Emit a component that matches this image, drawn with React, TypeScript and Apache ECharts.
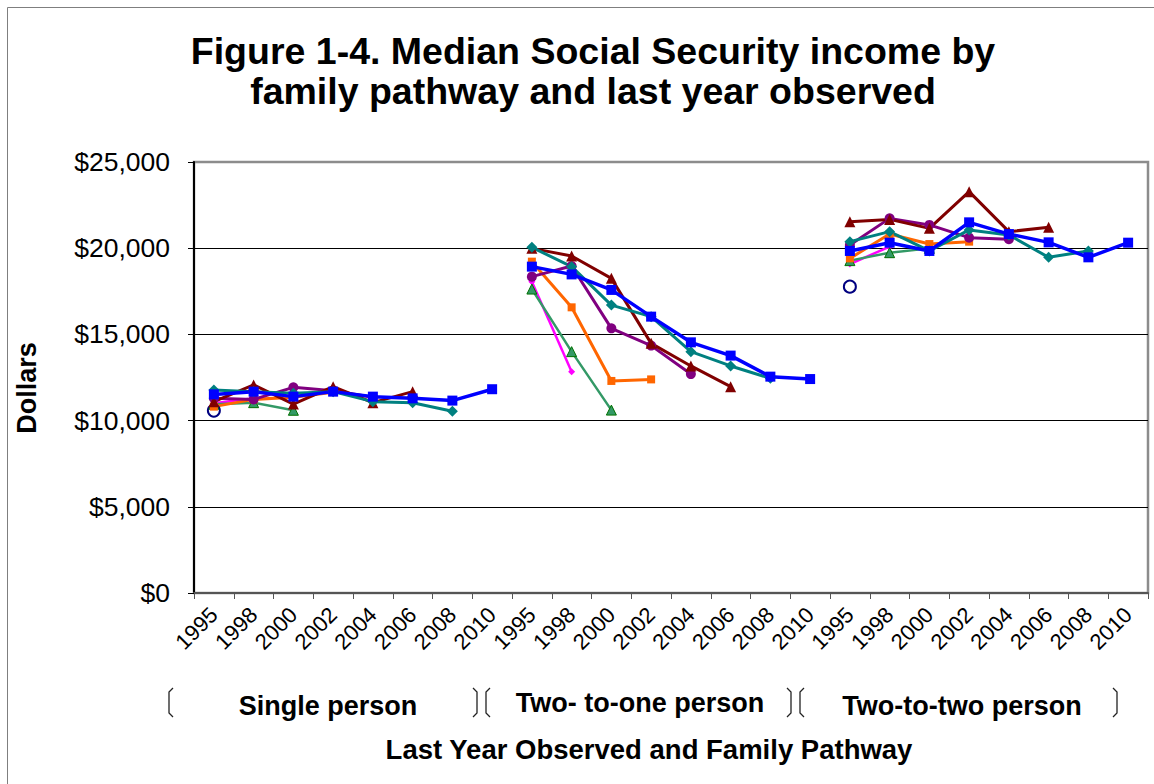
import React, { useEffect, useRef } from 'react';
import * as echarts from 'echarts';

const years = ['1995', '1998', '2000', '2002', '2004', '2006', '2008', '2010'];
const groups = ['Single person', 'Two- to-one person', 'Two-to-two person'];
const yTicks = [0, 5000, 10000, 15000, 20000, 25000];

// Series values per group (start at 1995, consecutive observation years)
const navySingle = [10580];
const navyTwoToOne: number[] = [];
const navyTwoToTwo = [17770];

const magentaSingle = [11000, 11290];
const magentaTwoToOne = [18060, 12840];
const magentaTwoToTwo = [19080, 20090];

const greenSingle = [10950, 11040, 10600];
const greenTwoToOne = [17630, 14000, 10610];
const greenTwoToTwo = [19280, 19740, 19990];

const orangeSingle = [10810, 11230, 11350, 11650];
const orangeTwoToOne = [19220, 16570, 12300, 12390];
const orangeTwoToTwo = [19410, 20820, 20240, 20380];

const purpleSingle = [11290, 11230, 11930, 11730, 11350];
const purpleTwoToOne = [18350, 18970, 15350, 14350, 12700];
const purpleTwoToTwo = [20190, 21730, 21350, 20610, 20520];

const darkRedSingle = [11100, 12070, 10960, 11970, 11040, 11680];
const darkRedTwoToOne = [19990, 19550, 18250, 14480, 13170, 11970];
const darkRedTwoToTwo = [21540, 21670, 21150, 23280, 20960, 21210];

const tealSingle = [11770, 11680, 11580, 11680, 11100, 11040, 10540];
const tealTwoToOne = [20050, 18930, 16700, 16030, 14000, 13170, 12450];
const tealTwoToTwo = [20380, 20960, 19840, 21060, 20770, 19470, 19840];

const blueSingle = [11520, 11680, 11390, 11680, 11390, 11290, 11160, 11820];
const blueTwoToOne = [18930, 18480, 17580, 16030, 14540, 13770, 12550, 12410];
const blueTwoToTwo = [19840, 20320, 19840, 21500, 20820, 20340, 19470, 20320];

const categories = groups.flatMap((_, gi) => years.map((y) => `${gi}-${y}`));

type Style = {
  name: string;
  groupsData: number[][];
  line: string;
  width: number;
  symbol: string;
  size: number;
  fill: string;
  border?: string;
  borderWidth?: number;
};

const styles: Style[] = [
  { name: 'Navy', groupsData: [navySingle, navyTwoToOne, navyTwoToTwo], line: '#000080', width: 2, symbol: 'emptyCircle', size: 12, fill: '#000080', borderWidth: 1.5 },
  { name: 'Magenta', groupsData: [magentaSingle, magentaTwoToOne, magentaTwoToTwo], line: '#FF00FF', width: 2.5, symbol: 'diamond', size: 7, fill: '#FF00FF' },
  { name: 'Green', groupsData: [greenSingle, greenTwoToOne, greenTwoToTwo], line: '#339966', width: 2.5, symbol: 'triangle', size: 10, fill: '#339966', border: '#007000', borderWidth: 1 },
  { name: 'Orange', groupsData: [orangeSingle, orangeTwoToOne, orangeTwoToTwo], line: '#FF6600', width: 3, symbol: 'rect', size: 8, fill: '#FF6600' },
  { name: 'Purple', groupsData: [purpleSingle, purpleTwoToOne, purpleTwoToTwo], line: '#800080', width: 3, symbol: 'circle', size: 10, fill: '#800080' },
  { name: 'DarkRed', groupsData: [darkRedSingle, darkRedTwoToOne, darkRedTwoToTwo], line: '#800000', width: 3, symbol: 'triangle', size: 11, fill: '#800000' },
  { name: 'Teal', groupsData: [tealSingle, tealTwoToOne, tealTwoToTwo], line: '#008080', width: 3, symbol: 'diamond', size: 11, fill: '#008080' },
  { name: 'Blue', groupsData: [blueSingle, blueTwoToOne, blueTwoToTwo], line: '#0000FF', width: 3.5, symbol: 'rect', size: 10, fill: '#0000FF' },
];

const FONT = 'Liberation Sans, Arial, sans-serif';

function buildSeries() {
  const out: any[] = [];
  styles.forEach((s) => {
    s.groupsData.forEach((vals, gi) => {
      if (!vals.length) return;
      const data: (number | null)[] = new Array(categories.length).fill(null);
      vals.forEach((v, i) => {
        data[gi * years.length + i] = v;
      });
      out.push({
        name: s.name,
        type: 'line',
        data,
        connectNulls: false,
        symbol: s.symbol,
        symbolSize: s.size,
        showAllSymbol: true,
        lineStyle: { color: s.line, width: s.width },
        itemStyle: {
          color: s.fill,
          borderColor: s.border || s.fill,
          borderWidth: s.borderWidth ?? 0,
        },
        emphasis: { disabled: true },
      });
    });
  });
  return out;
}

function bracket(x: number, dir: 1 | -1) {
  // dir 1 => "(" opening bracket, -1 => ")" closing bracket
  const top = 688;
  const bottom = 717;
  return {
    type: 'polyline',
    shape: {
      points: [
        [x + 4 * dir, top],
        [x, top + 4],
        [x, bottom - 4],
        [x + 4 * dir, bottom],
      ],
    },
    style: { stroke: '#222', lineWidth: 1.3, fill: 'none' },
    silent: true,
  };
}

function label(text: string, x: number, y: number, size: number, rotation = 0) {
  return {
    type: 'text',
    x,
    y,
    rotation,
    style: {
      text,
      fontSize: size,
      fontWeight: 'bold',
      fontFamily: FONT,
      fill: '#000',
      textAlign: 'center',
      textVerticalAlign: 'middle',
      align: 'center',
      verticalAlign: 'middle',
    },
    silent: true,
  };
}

export default function App() {
  const ref = useRef<HTMLDivElement>(null);
  useEffect(() => {
    if (!ref.current) return;
    const chart = echarts.init(ref.current, null, { renderer: 'svg' });
    const option: any = {
      animation: false,
      backgroundColor: '#ffffff',
      title: {
        text: 'Figure 1-4. Median Social Security income by\nfamily pathway and last year observed',
        left: 588,
        top: 26,
        textAlign: 'center',
        textStyle: {
          fontSize: 37.5,
          fontWeight: 'bold',
          fontFamily: FONT,
          color: '#000',
          lineHeight: 40,
        },
      },
      grid: {
        left: 194,
        top: 162,
        width: 954,
        height: 431,
        show: true,
        borderColor: '#8c8c8c',
        borderWidth: 2.5,
        backgroundColor: 'transparent',
      },
      xAxis: {
        type: 'category',
        data: categories,
        boundaryGap: true,
        axisLine: { lineStyle: { color: '#555', width: 2 } },
        axisTick: { show: true, length: 6, interval: 0, lineStyle: { color: '#555', width: 1 } },
        axisLabel: {
          interval: 0,
          rotate: 45,
          fontSize: 22,
          fontFamily: FONT,
          color: '#000',
          margin: 18,
          formatter: (v: string) => v.split('-')[1],
        },
        splitLine: { show: false },
      },
      yAxis: {
        type: 'value',
        min: yTicks[0],
        max: yTicks[yTicks.length - 1],
        interval: 5000,
        axisLine: { show: true, lineStyle: { color: '#000', width: 2 } },
        axisTick: { show: true, length: 6, lineStyle: { color: '#000', width: 1 } },
        axisLabel: {
          fontSize: 26.5,
          fontFamily: FONT,
          color: '#000',
          margin: 24,
          formatter: (v: number) => '$' + v.toLocaleString('en-US'),
        },
        splitLine: { show: true, showMaxLine: false, lineStyle: { color: '#000', width: 1 } },
      },
      series: buildSeries(),
      graphic: [
        {
          type: 'rect',
          shape: { x: 7.5, y: 7.5, width: 1170, height: 800 },
          style: { fill: 'none', stroke: '#7f7f7f', lineWidth: 1 },
          silent: true,
          z: -10,
        },
        label('Dollars', 27, 388, 27, Math.PI / 2),
        label(groups[0], 328, 706, 27),
        label(groups[1], 640, 703, 27),
        label(groups[2], 962, 706, 27),
        label('Last Year Observed and Family Pathway', 649, 749, 27.5),
        bracket(169, 1),
        bracket(477, -1),
        bracket(486, 1),
        bracket(791, -1),
        bracket(800, 1),
        bracket(1117, -1),
      ],
    };
    chart.setOption(option);
    return () => chart.dispose();
  }, []);
  return (
    <div
      ref={ref}
      style={{ position: 'fixed', left: 0, top: 0, width: 1154, height: 784, background: '#fff' }}
    />
  );
}
